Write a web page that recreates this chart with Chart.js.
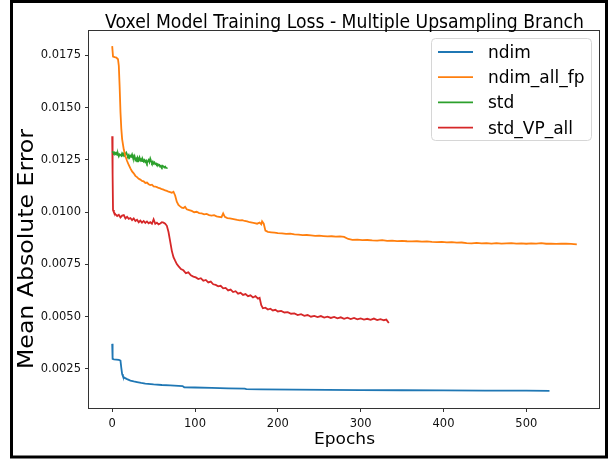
<!DOCTYPE html>
<html>
<head>
<meta charset="utf-8">
<script src="https://cdn.jsdelivr.net/npm/chart.js@4.4.0/dist/chart.umd.min.js"></script>
<style>
  html, body { margin: 0; padding: 0; background: #fff; }
  canvas { display: block; }
</style>
</head>
<body>
<canvas id="chart" width="610" height="459"></canvas>
<script>
// tick labels
const xTicks = [0, 100, 200, 300, 400, 500];
const yTicks = [0.0025, 0.0050, 0.0075, 0.0100, 0.0125, 0.0150, 0.0175];

// ndim
const ndimEpochs = [0, 0.5, 2, 5, 8, 10, 11, 12, 13, 15, 18, 22, 26, 30, 35, 40, 50, 60, 70, 80, 85, 87,
  100, 120, 140, 160, 162, 180, 220, 260, 300, 350, 400, 450, 500, 528];
const ndimLoss = [0.00370, 0.00298, 0.00296, 0.00295, 0.00293, 0.00290, 0.00255, 0.00225, 0.00214, 0.00207,
  0.00201, 0.00194, 0.00190, 0.00187, 0.00183, 0.00180, 0.00176, 0.00173, 0.00171, 0.00169, 0.00168, 0.00162,
  0.00161, 0.00159, 0.00157, 0.00156, 0.00153, 0.00152, 0.00151, 0.00150, 0.00149, 0.00148, 0.00147, 0.00146,
  0.00146, 0.00145];

// ndim_all_fp
const fpEpochs = [0, 1, 3, 5, 7, 8, 9, 10, 11, 12, 14, 16, 18, 20, 22, 24, 26, 28, 30, 32, 34, 36, 38, 40,
  42, 44, 46, 48, 50, 52, 54, 56, 58, 60, 62, 64, 66, 68, 70, 72, 74, 76, 78, 80, 82, 84, 86, 88, 90, 93, 96,
  99, 102, 105, 108, 111, 114, 117, 120, 123, 126, 129, 132, 134, 136, 139, 142, 145, 148, 151, 154, 157, 160,
  163, 166, 169, 172, 175, 178, 180, 181, 183, 185, 188, 192, 196, 200, 205, 210, 215, 220, 225, 230, 235,
  240, 245, 250, 255, 260, 265, 270, 275, 280, 285, 290, 296, 302, 308, 314, 320, 326, 332, 338, 344, 350,
  356, 362, 368, 374, 380, 386, 392, 398, 404, 410, 416, 422, 428, 434, 440, 446, 452, 458, 464, 470, 476,
  482, 488, 494, 500, 506, 512, 518, 524, 530, 536, 542, 548, 554, 561];
const fpLoss = [0.01795, 0.01745, 0.01742, 0.01740, 0.01732, 0.01700, 0.01600, 0.01480, 0.01400, 0.01350,
  0.01300, 0.01268, 0.01245, 0.01226, 0.01210, 0.01195, 0.01186, 0.01174, 0.01168, 0.01160, 0.01156, 0.01150,
  0.01148, 0.01140, 0.01142, 0.01134, 0.01130, 0.01132, 0.01124, 0.01123, 0.01120, 0.01116, 0.01114, 0.01110,
  0.01108, 0.01104, 0.01102, 0.01098, 0.01096, 0.01093, 0.01098, 0.01080, 0.01050, 0.01035, 0.01028, 0.01022,
  0.01020, 0.01026, 0.01014, 0.01010, 0.01006, 0.01000, 0.01002, 0.00996, 0.00994, 0.00990, 0.00992, 0.00986,
  0.00984, 0.00986, 0.00980, 0.00978, 0.00976, 0.00994, 0.00978, 0.00972, 0.00970, 0.00968, 0.00966, 0.00963,
  0.00961, 0.00962, 0.00958, 0.00956, 0.00952, 0.00950, 0.00948, 0.00945, 0.00950, 0.00942, 0.00956, 0.00945,
  0.00912, 0.00906, 0.00904, 0.00902, 0.00900, 0.00899, 0.00896, 0.00897, 0.00894, 0.00893, 0.00890, 0.00891,
  0.00889, 0.00887, 0.00888, 0.00886, 0.00884, 0.00885, 0.00883, 0.00884, 0.00882, 0.00872, 0.00868, 0.00869,
  0.00866, 0.00867, 0.00865, 0.00864, 0.00866, 0.00863, 0.00864, 0.00862, 0.00863, 0.00861, 0.00860, 0.00861,
  0.00859, 0.00860, 0.00858, 0.00857, 0.00858, 0.00856, 0.00857, 0.00854, 0.00855, 0.00852, 0.00851, 0.00853,
  0.00851, 0.00852, 0.00850, 0.00852, 0.00850, 0.00851, 0.00852, 0.00850, 0.00851, 0.00849, 0.00851, 0.00850,
  0.00852, 0.00849, 0.00850, 0.00848, 0.00850, 0.00849, 0.00848, 0.00846];

// std (one value per epoch, epochs 0..66)
const stdLoss = [0.01291, 0.01288, 0.01282, 0.01286, 0.01279, 0.01284, 0.01275, 0.01280, 0.01268, 0.01277,
  0.01274, 0.01270, 0.01282, 0.01276, 0.01281, 0.01272, 0.01279, 0.01285, 0.01276, 0.01268,
  0.01274, 0.01262, 0.01270, 0.01266, 0.01276, 0.01262, 0.01258, 0.01268, 0.01250, 0.01256,
  0.01243, 0.01258, 0.01250, 0.01262, 0.01248, 0.01254, 0.01244, 0.01252, 0.01243, 0.01249,
  0.01240, 0.01246, 0.01236, 0.01244, 0.01250, 0.01240, 0.01256, 0.01245, 0.01236, 0.01242,
  0.01233, 0.01238, 0.01230, 0.01233, 0.01227, 0.01230, 0.01224, 0.01226, 0.01218, 0.01222,
  0.01216, 0.01222, 0.01218, 0.01214, 0.01218, 0.01212, 0.01214];

// std_VP_all
const vpEpochs = [0, 0.5, 1, 2, 4, 6, 8, 10, 12, 14, 16, 18, 20, 22, 24, 26, 28, 30, 32, 34, 36, 38, 40, 42,
  44, 46, 48, 50, 52, 54, 56, 58, 60, 62, 64, 66, 68, 70, 72, 74, 76, 78, 80, 83, 86, 89, 92, 95, 98, 101, 104,
  107, 110, 113, 116, 119, 122, 125, 128, 131, 134, 137, 140, 143, 146, 149, 152, 155, 158, 161, 164, 167, 170,
  173, 176, 178, 180, 182, 185, 188, 191, 194, 197, 200, 204, 208, 212, 216, 220, 224, 228, 232, 236, 240, 244,
  248, 252, 256, 260, 264, 268, 272, 276, 280, 284, 288, 292, 296, 300, 304, 308, 312, 316, 320, 324, 328, 331,
  334];
const vpLoss = [0.01363, 0.01180, 0.01010, 0.01000, 0.00990, 0.00982, 0.00988, 0.00975, 0.00984, 0.00986,
  0.00970, 0.00978, 0.00968, 0.00972, 0.00962, 0.00970, 0.00958, 0.00964, 0.00952, 0.00960, 0.00950, 0.00958,
  0.00949, 0.00956, 0.00947, 0.00952, 0.00945, 0.00966, 0.00944, 0.00950, 0.00942, 0.00946, 0.00952, 0.00950,
  0.00945, 0.00935, 0.00905, 0.00860, 0.00815, 0.00785, 0.00768, 0.00752, 0.00742, 0.00728, 0.00722, 0.00708,
  0.00712, 0.00698, 0.00692, 0.00688, 0.00680, 0.00684, 0.00672, 0.00676, 0.00664, 0.00668, 0.00655, 0.00652,
  0.00645, 0.00648, 0.00636, 0.00638, 0.00626, 0.00630, 0.00618, 0.00622, 0.00610, 0.00614, 0.00604, 0.00608,
  0.00598, 0.00602, 0.00592, 0.00598, 0.00586, 0.00590, 0.00555, 0.00540, 0.00543, 0.00534, 0.00538, 0.00530,
  0.00533, 0.00525, 0.00528, 0.00520, 0.00522, 0.00514, 0.00516, 0.00508, 0.00512, 0.00504, 0.00508, 0.00500,
  0.00504, 0.00498, 0.00503, 0.00496, 0.00500, 0.00494, 0.00499, 0.00492, 0.00497, 0.00490, 0.00495, 0.00489,
  0.00494, 0.00487, 0.00492, 0.00486, 0.00490, 0.00485, 0.00491, 0.00484, 0.00488, 0.00483, 0.00486, 0.00470];

function pairs(xs, ys) {
  return ys.map((y, i) => ({ x: xs ? xs[i] : i, y: y }));
}

Chart.defaults.font.family = 'DejaVu Sans';
Chart.defaults.color = '#000';

// draw text stretched to a given length along its baseline
function fitText(ctx, text, x, y, length, stretchY) {
  const w = ctx.measureText(text).width;
  ctx.save();
  ctx.translate(x, y);
  ctx.scale(length / w, stretchY || 1);
  ctx.fillText(text, 0, 0);
  ctx.restore();
}

// title, axis labels, frame and legend drawn matplotlib-style
const decorations = {
  id: 'decorations',
  beforeDraw(chart) {
    const ctx = chart.ctx;
    ctx.save();
    ctx.fillStyle = '#fff';
    ctx.fillRect(0, 0, chart.width, chart.height);
    ctx.restore();
  },
  afterDraw(chart) {
    const ctx = chart.ctx;
    const a = chart.chartArea;
    const cx = (a.left + a.right) / 2;
    ctx.save();

    // axes spines
    ctx.strokeStyle = '#333';
    ctx.lineWidth = 1;
    ctx.strokeRect(Math.round(a.left) - 0.5, Math.round(a.top) + 0.5,
      Math.round(a.right - a.left), Math.round(a.bottom - a.top));

    // outer black frame
    ctx.strokeStyle = '#000';
    ctx.lineWidth = 3;
    ctx.strokeRect(11.5, 1.5, 595, 455.5);

    ctx.fillStyle = '#000';
    ctx.textAlign = 'center';
    ctx.textBaseline = 'alphabetic';

    // title
    ctx.font = '17px "DejaVu Sans"';
    fitText(ctx, 'Voxel Model Training Loss - Multiple Upsampling Branch', cx, 27.5, 479, 1.12);

    // x label
    ctx.font = '16.5px "DejaVu Sans"';
    fitText(ctx, 'Epochs', cx, 444, 61, 1);

    // y label
    ctx.save();
    ctx.translate(33, 249);
    ctx.rotate(-Math.PI / 2);
    ctx.font = '22px "DejaVu Sans"';
    fitText(ctx, 'Mean Absolute Error', 0, 0, 240, 1);
    ctx.restore();

    // legend
    const bx = 431.5, by = 38.5, bw = 160, bh = 102, r = 4;
    ctx.beginPath();
    ctx.moveTo(bx + r, by);
    ctx.arcTo(bx + bw, by, bx + bw, by + bh, r);
    ctx.arcTo(bx + bw, by + bh, bx, by + bh, r);
    ctx.arcTo(bx, by + bh, bx, by, r);
    ctx.arcTo(bx, by, bx + bw, by, r);
    ctx.closePath();
    ctx.fillStyle = 'rgba(255,255,255,0.8)';
    ctx.fill();
    ctx.strokeStyle = '#d6d6d6';
    ctx.lineWidth = 1;
    ctx.stroke();

    ctx.font = '17px "DejaVu Sans"';
    ctx.textAlign = 'left';
    chart.data.datasets.forEach((ds, i) => {
      const ly = 52 + i * 25.2;
      ctx.strokeStyle = ds.borderColor;
      ctx.lineWidth = 1.8;
      ctx.beginPath();
      ctx.moveTo(438, ly);
      ctx.lineTo(473, ly);
      ctx.stroke();
      ctx.fillStyle = '#000';
      ctx.fillText(ds.label, 488, ly + 6);
    });

    ctx.restore();
  }
};

const lineStyle = { borderWidth: 1.8, pointRadius: 0, tension: 0, fill: false };

new Chart(document.getElementById('chart'), {
  type: 'line',
  data: {
    datasets: [
      Object.assign({ label: 'ndim', data: pairs(ndimEpochs, ndimLoss), borderColor: '#1f77b4' }, lineStyle),
      Object.assign({ label: 'ndim_all_fp', data: pairs(fpEpochs, fpLoss), borderColor: '#ff7f0e' }, lineStyle),
      Object.assign({ label: 'std', data: pairs(null, stdLoss), borderColor: '#2ca02c' }, lineStyle),
      Object.assign({ label: 'std_VP_all', data: pairs(vpEpochs, vpLoss), borderColor: '#d62728' }, lineStyle)
    ]
  },
  plugins: [decorations],
  options: {
    responsive: false,
    animation: false,
    devicePixelRatio: 1,
    layout: { padding: { left: 0, right: 10, top: 30, bottom: 0 } },
    plugins: {
      legend: { display: false },
      title: { display: false },
      tooltip: { enabled: false }
    },
    scales: {
      x: {
        type: 'linear',
        min: -28,
        max: 589,
        afterBuildTicks: (s) => { s.ticks = xTicks.map(v => ({ value: v })); },
        afterFit: (s) => { s.height = 51; },
        grid: { drawOnChartArea: false, drawTicks: true, tickLength: 4, tickColor: '#333', tickWidth: 1 },
        border: { display: false },
        ticks: { font: { size: 11.5 }, color: '#111', padding: 5, maxRotation: 0, callback: (v) => String(v) }
      },
      y: {
        type: 'linear',
        min: 0.00063,
        max: 0.01872,
        afterBuildTicks: (s) => { s.ticks = yTicks.map(v => ({ value: v })); },
        afterFit: (s) => { s.width = 89; },
        grid: { drawOnChartArea: false, drawTicks: true, tickLength: 4, tickColor: '#333', tickWidth: 1 },
        border: { display: false },
        ticks: { font: { size: 11.5 }, color: '#111', padding: 4, callback: (v) => v.toFixed(4) }
      }
    }
  }
});
</script>
</body>
</html>
